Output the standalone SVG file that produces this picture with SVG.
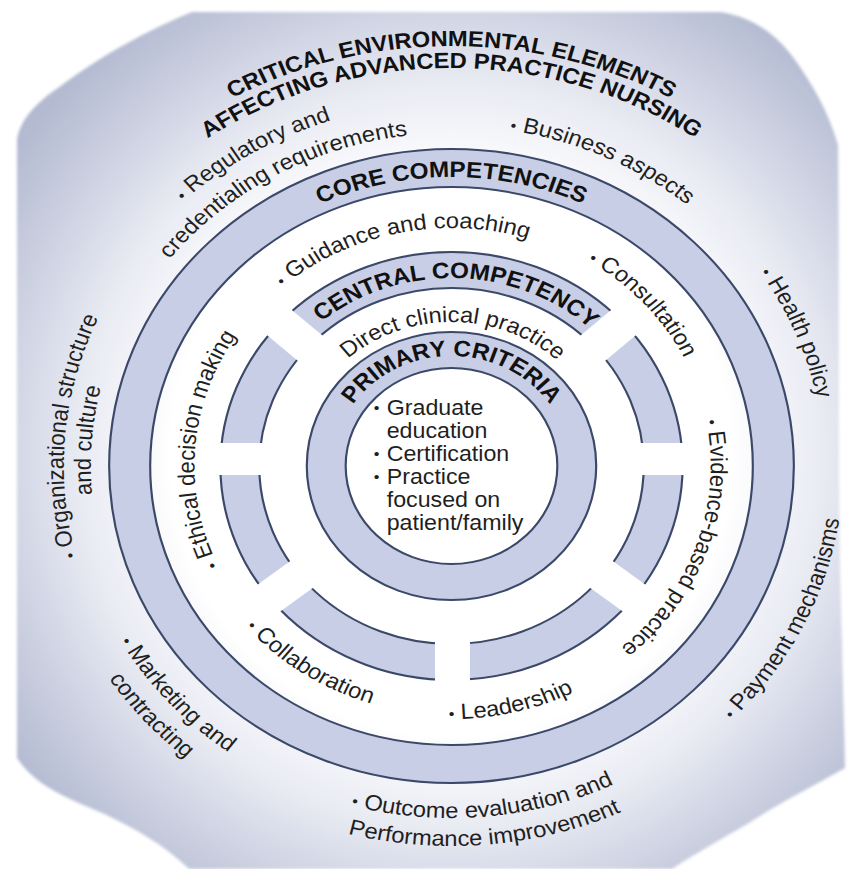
<svg xmlns="http://www.w3.org/2000/svg" width="848" height="869" viewBox="0 0 848 869">
<defs>
  <radialGradient id="bg" gradientUnits="userSpaceOnUse" cx="451" cy="455" r="620">
    <stop offset="0" stop-color="#ffffff"/>
    <stop offset="0.45" stop-color="#ffffff"/>
    <stop offset="0.6" stop-color="#e9ebf3"/>
    <stop offset="0.72" stop-color="#cfd3e3"/>
    <stop offset="0.85" stop-color="#b5bcd2"/>
    <stop offset="1" stop-color="#9ea6c2"/>
  </radialGradient>
  <filter id="soft" x="-5%" y="-5%" width="110%" height="110%">
    <feGaussianBlur stdDeviation="1.5"/>
  </filter>
  <mask id="gaps" maskUnits="userSpaceOnUse" x="-300" y="-300" width="600" height="600">
    <rect x="-300" y="-300" width="600" height="600" fill="#fff"/>
    <rect x="-300" y="-23" width="600" height="32" fill="#000"/>
    <rect x="-15.3" y="0" width="32.4" height="300" fill="#000"/>
    <rect x="0" y="-17" width="300" height="34" fill="#000" transform="rotate(-42)"/>
    <rect x="0" y="-17" width="300" height="34" fill="#000" transform="rotate(-138)"/>
    <rect x="0" y="-17" width="300" height="34" fill="#000" transform="rotate(-218)"/>
    <rect x="0" y="-17" width="300" height="34" fill="#000" transform="rotate(-322)"/>
  </mask>
  <path id="c420" d="M-420 0A420 420 0 0 1 420 0"/>
  <path id="c398" d="M-398 0A398 398 0 0 1 398 0"/>
  <path id="c289" d="M-289 0A289 289 0 0 1 289 0"/>
  <path id="c188" d="M-188 0A188 188 0 0 1 188 0"/>
  <path id="c110" d="M-110 0A110 110 0 0 1 110 0"/>
  <path id="c144" d="M-144 0A144 144 0 0 1 144 0"/>
  <path id="c238" d="M-238 0A238 238 0 0 1 238 0"/>
  <path id="c241" d="M-241 0A241 241 0 0 1 241 0"/>
  <path id="c240" d="M-240 0A240 240 0 0 1 240 0"/>
  <path id="c363" d="M-363 0A363 363 0 0 1 363 0"/>
  <path id="c333" d="M-333 0A333 333 0 0 1 333 0"/>
  <path id="c340" d="M-340 0A340 340 0 0 1 340 0"/>
  <path id="c345" d="M-345 0A345 345 0 0 1 345 0"/>
  <path id="c359" d="M-359 0A359 359 0 0 1 359 0"/>
  <path id="c334" d="M-334 0A334 334 0 0 1 334 0"/>
  <path id="a253" d="M-253 0A253 253 0 0 0 253 0"/>
  <path id="a249" d="M-249 0A249 249 0 0 0 249 0"/>
  <path id="a363" d="M-363 0A363 363 0 0 0 363 0"/>
  <path id="a352" d="M-352 0A352 352 0 0 0 352 0"/>
  <path id="a380" d="M-380 0A380 380 0 0 0 380 0"/>
  <path id="a353" d="M-353 0A353 353 0 0 0 353 0"/>
  <path id="a382" d="M-382 0A382 382 0 0 0 382 0"/>
</defs>
<style>
  .ring{fill:none;stroke:#c7cee6}
  .edge{fill:none;stroke:#3b4868;stroke-width:2}
  text{font-family:"Liberation Sans",Arial,Helvetica,sans-serif;fill:#1f1f1f;text-anchor:middle}
  .lbl{font-size:22px}
  .hd{font-size:22.5px;font-weight:bold;fill:#111}
  .ttl{font-size:22px;font-weight:bold;fill:#111}
  .list{font-size:21.5px;text-anchor:start}
  .bul{font-size:15px}
</style>
<rect width="848" height="869" fill="#ffffff"/>
<path id="blob" d="M192 12L719 12C750 16 775 32 795 60C812 84 828 110 838 145C840 300 837 500 842 640C843 700 845 740 845 768C815 785 785 800 760 816C730 835 700 850 672 869L189 869C165 845 130 825 95 810C65 797 35 785 17 758L17 140C20 118 40 100 58 88C90 64 130 38 192 12Z" fill="url(#bg)" filter="url(#soft)"/>
<g id="diagram" transform="translate(451.5,466) scale(1.08,1)">
  <g id="core-ring">
    <circle r="298" class="ring" stroke-width="38"/>
    <circle r="317" class="edge"/>
    <circle r="279" class="edge"/>
  </g>
  <g id="segment-ring" mask="url(#gaps)">
    <circle r="196" class="ring" stroke-width="36"/>
    <circle r="214" class="edge"/>
    <circle r="178" class="edge"/>
  </g>
  <g id="primary-ring">
    <circle r="116" class="ring" stroke-width="36"/>
    <circle r="134" class="edge"/>
    <circle r="98" class="edge"/>
  </g>
  <g id="titles">
    <text class="ttl"><textPath href="#c420" startOffset="50%">CRITICAL ENVIRONMENTAL ELEMENTS</textPath></text>
    <text class="ttl"><textPath href="#c398" startOffset="50%">AFFECTING ADVANCED PRACTICE NURSING</textPath></text>
    <text class="hd"><textPath href="#c289" startOffset="50%">CORE COMPETENCIES</textPath></text>
    <text class="hd" transform="rotate(1.5)"><textPath href="#c188" startOffset="50%">CENTRAL COMPETENCY</textPath></text>
    <text class="hd"><textPath href="#c110" startOffset="50%">PRIMARY CRITERIA</textPath></text>
  </g>
  <g id="core-labels">
    <text class="lbl" transform="rotate(0.5)"><textPath href="#c144" startOffset="50%">Direct clinical practice</textPath></text>
    <text class="lbl" transform="rotate(-11.9)"><textPath href="#c238" startOffset="50%"><tspan class="bul">•</tspan> Guidance and coaching</textPath></text>
    <text class="lbl" transform="rotate(47.5)"><textPath href="#c241" startOffset="50%"><tspan class="bul">•</tspan> Consultation</textPath></text>
    <text class="lbl" transform="rotate(109.2)"><textPath href="#c240" startOffset="50%"><tspan class="bul">•</tspan> Evidence-based practice</textPath></text>
    <text class="lbl" transform="rotate(-13)"><textPath href="#a253" startOffset="50%"><tspan class="bul">•</tspan> Leadership</textPath></text>
    <text class="lbl" transform="rotate(33.6)"><textPath href="#a249" startOffset="50%"><tspan class="bul">•</tspan> Collaboration</textPath></text>
    <text class="lbl" transform="rotate(-85.8)"><textPath href="#c238" startOffset="50%"><tspan class="bul">•</tspan> Ethical decision making</textPath></text>
  </g>
  <g id="environment-labels">
    <text class="lbl" transform="rotate(-30.5)"><textPath href="#c363" startOffset="50%"><tspan class="bul">•</tspan> Regulatory and</textPath></text>
    <text class="lbl" transform="rotate(-29.3)"><textPath href="#c333" startOffset="50%">credentialing requirements</textPath></text>
    <text class="lbl" transform="rotate(24.5)"><textPath href="#c340" startOffset="50%"><tspan class="bul">•</tspan> Business aspects</textPath></text>
    <text class="lbl" transform="rotate(67.3)"><textPath href="#c345" startOffset="50%"><tspan class="bul">•</tspan> Health policy</textPath></text>
    <text class="lbl" transform="rotate(-63.6)"><textPath href="#a363" startOffset="50%"><tspan class="bul">•</tspan> Payment mechanisms</textPath></text>
    <text class="lbl" transform="rotate(-5)"><textPath href="#a352" startOffset="50%"><tspan class="bul">•</tspan> Outcome evaluation and</textPath></text>
    <text class="lbl" transform="rotate(-4.9)"><textPath href="#a380" startOffset="50%">Performance improvement</textPath></text>
    <text class="lbl" transform="rotate(48)"><textPath href="#a353" startOffset="50%"><tspan class="bul">•</tspan> Marketing and</textPath></text>
    <text class="lbl" transform="rotate(48.1)"><textPath href="#a382" startOffset="50%">contracting</textPath></text>
    <text class="lbl" transform="rotate(-85.1)"><textPath href="#c359" startOffset="50%"><tspan class="bul">•</tspan> Organizational structure</textPath></text>
    <text class="lbl" transform="rotate(-85.6)"><textPath href="#c334" startOffset="50%">and culture</textPath></text>
  </g>
  <g id="primary-list">
    <text class="list bul" x="-72" y="-53">•</text>
    <text class="list bul" x="-72" y="-7">•</text>
    <text class="list bul" x="-72" y="16">•</text>
    <text class="list" x="-60" y="-51">Graduate</text>
    <text class="list" x="-60" y="-28">education</text>
    <text class="list" x="-60" y="-5">Certification</text>
    <text class="list" x="-60" y="18">Practice</text>
    <text class="list" x="-60" y="41">focused on</text>
    <text class="list" x="-60" y="64">patient/family</text>
  </g>
</g>
</svg>
